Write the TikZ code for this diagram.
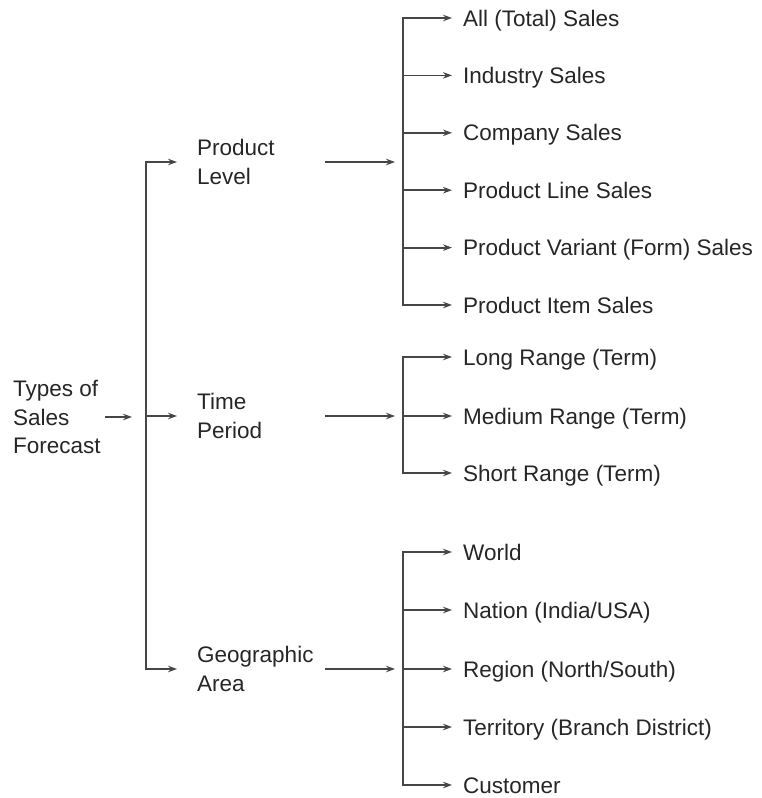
\documentclass[tikz,border=0pt]{standalone}
\usepackage{fontspec}
\setmainfont{Liberation Sans}
\usepackage{tikz}
\usetikzlibrary{arrows.meta}
\definecolor{ink}{HTML}{262626}
\definecolor{wire}{HTML}{464646}
\tikzstyle{txt}=[anchor=west, inner sep=0pt, text=ink, font=\fontsize{22.5pt}{28.5pt}\selectfont]
\tikzstyle{grp}=[txt, align=left]
\tikzstyle{itm}=[txt, text height=16.1pt, text depth=0pt]
\tikzstyle{ln}=[draw=wire, line width=1.8pt]
\tikzstyle{arr}=[ln, -{Stealth[length=9pt,width=6.5pt]}]

\begin{document}
\begin{tikzpicture}[x=1pt, y=-1pt]
				\useasboundingbox (0,0) rectangle (762,798);
				\coordinate (msp) at (146,0);
				\coordinate (lout) at (325,0);
				\coordinate (rsp) at (403,0);
				
				\node[grp] (types) at (13,417) {Types of\\Sales\\Forecast};
				\node[grp] (prod) at (197,162) {Product\\Level};
				\node[grp] (time) at (197,416) {Time\\Period};
				\node[grp] (geo) at (197,669) {Geographic\\Area};
				
				\node[itm] (p1) at (463,18) {All (Total) Sales};
				\node[itm] (p2) at (463,75.4) {Industry Sales};
				\node[itm] (p3) at (463,132.8) {Company Sales};
				\node[itm] (p4) at (463,190.2) {Product Line Sales};
				\node[itm] (p5) at (463,247.6) {Product Variant (Form) Sales};
				\node[itm] (p6) at (463,305) {Product Item Sales};
				
				\node[itm] (t1) at (463,357) {Long Range (Term)};
				\node[itm] (t2) at (463,416) {Medium Range (Term)};
				\node[itm] (t3) at (463,473) {Short Range (Term)};
				
				\node[itm] (g1) at (463,552) {World};
				\node[itm] (g2) at (463,610) {Nation (India/USA)};
				\node[itm] (g3) at (463,669) {Region (North/South)};
				\node[itm] (g4) at (463,727) {Territory (Branch District)};
				\node[itm] (g5) at (463,785) {Customer};
				
				\draw[arr, shorten <=4.5pt, shorten >=14pt] (types.east) -- (types.east -| msp);
				\draw[ln, line cap=rect] (prod.west -| msp) -- (geo.west -| msp);
				\draw[arr, shorten >=20pt] (prod.west -| msp) -- (prod.west);
				\draw[arr, shorten >=20pt] (time.west -| msp) -- (time.west);
				\draw[arr, shorten >=20pt] (geo.west -| msp) -- (geo.west);
				
				\draw[arr, shorten >=8pt] (prod.west -| lout) -- (prod.west -| rsp);
				\draw[arr, shorten >=8pt] (time.west -| lout) -- (time.west -| rsp);
				\draw[arr, shorten >=8pt] (geo.west -| lout) -- (geo.west -| rsp);
				
				\draw[ln, line cap=rect] (p1.west -| rsp) -- (p6.west -| rsp);
				\draw[arr, shorten >=11pt] (p1.west -| rsp) -- (p1.west);
				\draw[arr, shorten >=11pt] (p2.west -| rsp) -- (p2.west);
				\draw[arr, shorten >=11pt] (p3.west -| rsp) -- (p3.west);
				\draw[arr, shorten >=11pt] (p4.west -| rsp) -- (p4.west);
				\draw[arr, shorten >=11pt] (p5.west -| rsp) -- (p5.west);
				\draw[arr, shorten >=11pt] (p6.west -| rsp) -- (p6.west);
				
				\draw[ln, line cap=rect] (t1.west -| rsp) -- (t3.west -| rsp);
				\draw[arr, shorten >=11pt] (t1.west -| rsp) -- (t1.west);
				\draw[arr, shorten >=11pt] (t2.west -| rsp) -- (t2.west);
				\draw[arr, shorten >=11pt] (t3.west -| rsp) -- (t3.west);
				
				\draw[ln, line cap=rect] (g1.west -| rsp) -- (g5.west -| rsp);
				\draw[arr, shorten >=11pt] (g1.west -| rsp) -- (g1.west);
				\draw[arr, shorten >=11pt] (g2.west -| rsp) -- (g2.west);
				\draw[arr, shorten >=11pt] (g3.west -| rsp) -- (g3.west);
				\draw[arr, shorten >=11pt] (g4.west -| rsp) -- (g4.west);
				\draw[arr, shorten >=11pt] (g5.west -| rsp) -- (g5.west);
			\end{tikzpicture}
\end{document}
